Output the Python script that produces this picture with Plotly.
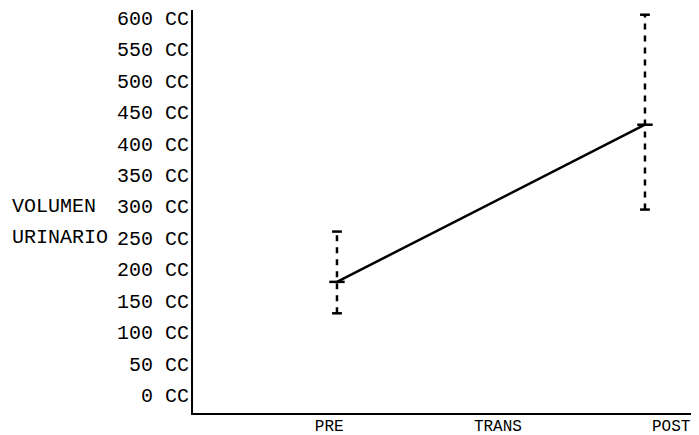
import plotly.graph_objects as go

# Data
phases = ["PRE", "TRANS", "POST"]
phase_x = [1, 3]                # PRE and POST measurement points
means = [180, 430]              # mean urinary volume (cc)
err_plus = [80, 175]
err_minus = [50, 135]
y_ticks = list(range(0, 601, 50))
y_ticktext = [f"{v} CC" for v in y_ticks]
axis_title_lines = ["VOLUMEN", "URINARIO"]
axis_title_rows = [300, 250]

FONT = "Liberation Mono, Courier New, monospace"

fig = go.Figure()

# main line between means
fig.add_trace(go.Scatter(
    x=phase_x, y=means, mode="lines",
    line=dict(color="black", width=2.5),
    hoverinfo="skip", showlegend=False))

# dashed error bars
for xi, m, ep, em in zip(phase_x, means, err_plus, err_minus):
    fig.add_trace(go.Scatter(
        x=[xi, xi], y=[m - em, m + ep], mode="lines",
        line=dict(color="black", width=2.5, dash="6px,6px"),
        hoverinfo="skip", showlegend=False))
    fig.add_trace(go.Scatter(
        x=[xi, xi], y=[m - em, m + ep], mode="markers",
        marker=dict(symbol="line-ew", size=7, line=dict(color="black", width=2.5)),
        hoverinfo="skip", showlegend=False))

# mean markers
fig.add_trace(go.Scatter(
    x=phase_x, y=means, mode="markers",
    marker=dict(symbol="line-ew", size=11, line=dict(color="black", width=2.5)),
    hoverinfo="skip", showlegend=False))

for txt, row in zip(axis_title_lines, axis_title_rows):
    fig.add_annotation(
        text=txt, x=-0.366, xref="paper", y=row, yref="y",
        xanchor="left", yanchor="middle", showarrow=False,
        font=dict(family=FONT, size=20, color="black"))

fig.update_layout(
    width=691, height=427,
    margin=dict(l=185, r=6, t=2, b=22),
    paper_bgcolor="white", plot_bgcolor="white",
    font=dict(family=FONT, size=20, color="black"),
    xaxis=dict(
        range=[0.065, 3.312], automargin=False,
        tickvals=[0.95, 2.045, 3.17], ticktext=phases,
        showgrid=False, zeroline=False, showline=True,
        linecolor="black", linewidth=2, ticks="",
        ticklabelstandoff=-3, ticklabeloverflow="allow",
        tickfont=dict(family=FONT, size=16, color="black")),
    yaxis=dict(
        range=[-28.6, 612.5], automargin=False,
        tickvals=y_ticks, ticktext=y_ticktext,
        showgrid=False, zeroline=False, showline=True,
        linecolor="black", linewidth=2, ticks="",
        ticklabelstandoff=-2, ticklabeloverflow="allow",
        tickfont=dict(family=FONT, size=20, color="black")),
)

fig.write_html("out.html")
